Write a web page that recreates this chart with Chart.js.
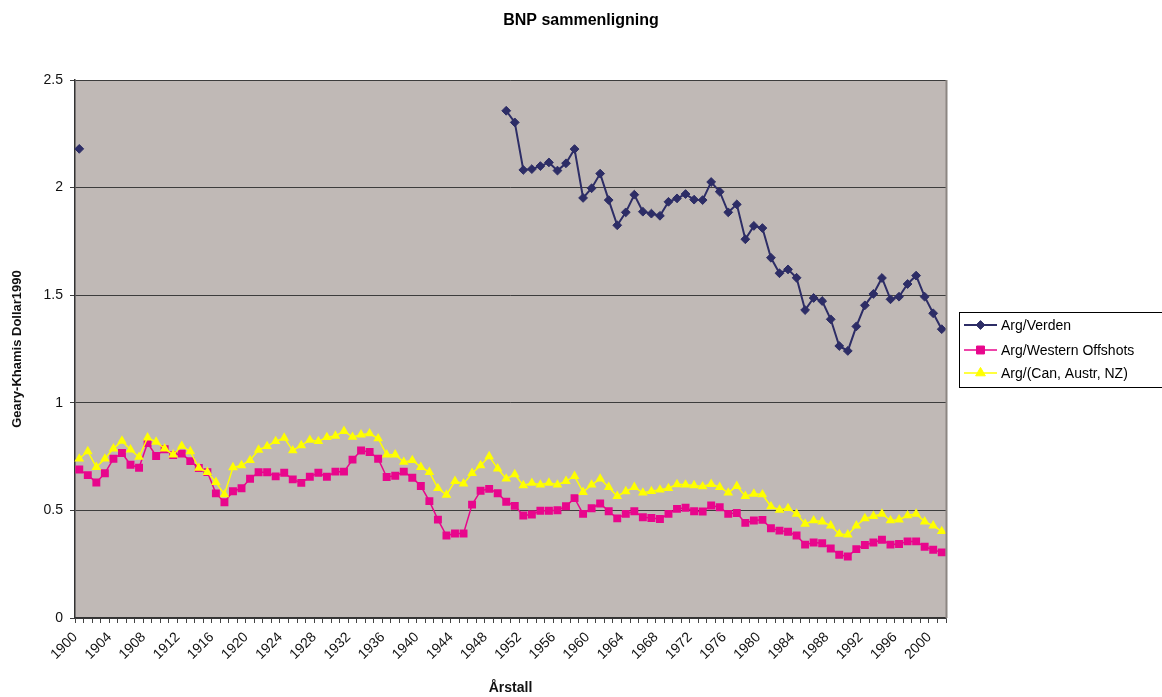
<!DOCTYPE html>
<html>
<head>
<meta charset="utf-8">
<script src="https://cdn.jsdelivr.net/npm/chart.js@4/dist/chart.umd.min.js"></script>
<style>
  html, body { margin: 0; padding: 0; background: #ffffff; }
  #wrap { position: relative; width: 1162px; height: 697px; }
</style>
</head>
<body>
<div id="wrap"><canvas id="c" width="1162" height="697"></canvas></div>
<script>
const years = [1900,1901,1902,1903,1904,1905,1906,1907,1908,1909,1910,1911,1912,1913,1914,1915,1916,1917,1918,1919,
  1920,1921,1922,1923,1924,1925,1926,1927,1928,1929,1930,1931,1932,1933,1934,1935,1936,1937,1938,1939,
  1940,1941,1942,1943,1944,1945,1946,1947,1948,1949,1950,1951,1952,1953,1954,1955,1956,1957,1958,1959,
  1960,1961,1962,1963,1964,1965,1966,1967,1968,1969,1970,1971,1972,1973,1974,1975,1976,1977,1978,1979,
  1980,1981,1982,1983,1984,1985,1986,1987,1988,1989,1990,1991,1992,1993,1994,1995,1996,1997,1998,1999,
  2000,2001];

const argVerden = [2.18,
  null,null,null,null,null,null,null,null,null,null,
  null,null,null,null,null,null,null,null,null,null,
  null,null,null,null,null,null,null,null,null,null,
  null,null,null,null,null,null,null,null,null,null,
  null,null,null,null,null,null,null,null,null,
  2.357,2.303,2.082,2.086,2.100,2.117,2.079,2.113,2.179,1.952,
  1.997,2.065,1.942,1.825,1.885,1.967,1.888,1.879,1.869,1.934,
  1.950,1.970,1.944,1.942,2.026,1.981,1.885,1.922,1.760,1.822,
  1.812,1.674,1.602,1.620,1.581,1.431,1.487,1.473,1.388,1.264,
  1.241,1.355,1.453,1.506,1.580,1.481,1.493,1.552,1.591,1.493,
  1.416,1.342];

const argWesternOffshots = [0.690,0.664,0.630,0.673,0.740,0.767,0.712,0.698,0.813,0.753,
  0.784,0.757,0.764,0.729,0.697,0.678,0.579,0.538,0.589,0.603,
  0.647,0.677,0.677,0.658,0.675,0.644,0.628,0.656,0.675,0.656,
  0.680,0.680,0.736,0.778,0.771,0.740,0.655,0.661,0.680,0.652,
  0.613,0.543,0.457,0.383,0.393,0.393,0.527,0.591,0.600,0.580,
  0.540,0.521,0.476,0.481,0.498,0.498,0.501,0.519,0.557,0.484,
  0.510,0.532,0.496,0.463,0.484,0.496,0.468,0.465,0.460,0.484,
  0.507,0.512,0.496,0.495,0.523,0.515,0.484,0.488,0.442,0.453,
  0.456,0.417,0.406,0.401,0.383,0.341,0.351,0.347,0.323,0.294,
  0.286,0.320,0.339,0.351,0.364,0.341,0.344,0.356,0.356,0.331,
  0.317,0.305];

const argCanAustrNZ = [0.740,0.774,0.701,0.740,0.787,0.823,0.782,0.748,0.838,0.818,
  0.787,0.759,0.799,0.774,0.697,0.678,0.631,0.574,0.700,0.709,
  0.733,0.781,0.798,0.821,0.837,0.778,0.802,0.827,0.821,0.840,
  0.846,0.868,0.841,0.852,0.857,0.834,0.759,0.759,0.725,0.733,
  0.701,0.678,0.603,0.572,0.636,0.624,0.673,0.709,0.751,0.694,
  0.647,0.667,0.616,0.627,0.619,0.628,0.619,0.636,0.659,0.585,
  0.619,0.647,0.608,0.566,0.588,0.608,0.582,0.589,0.596,0.603,
  0.621,0.619,0.616,0.611,0.622,0.608,0.582,0.613,0.566,0.577,
  0.574,0.518,0.502,0.510,0.484,0.437,0.453,0.448,0.429,0.390,
  0.387,0.429,0.463,0.473,0.484,0.453,0.457,0.476,0.484,0.448,
  0.429,0.403];

const seriesNames = ['Arg/Verden', 'Arg/Western Offshots', 'Arg/(Can, Austr, NZ)'];
const yTicks = [0, 0.5, 1, 1.5, 2, 2.5];

const FONT = '"Liberation Sans", Arial, sans-serif';
const PLOT_BG = 'rgb(192,185,182)';
const C_NAVY = '#2d2d66';
const C_PINK = '#e8068c';
const C_YELLOW = '#ffff00';

const chartFrame = {
  id: 'chartFrame',
  beforeDraw(chart) {
    const { ctx, chartArea: a } = chart;
    ctx.save();
    ctx.fillStyle = '#ffffff';
    ctx.fillRect(0, 0, chart.width, chart.height);
    ctx.fillStyle = PLOT_BG;
    ctx.fillRect(a.left, a.top, a.right - a.left, a.bottom - a.top);
    ctx.restore();
  },
  afterDraw(chart) {
    const { ctx, chartArea: a } = chart;
    ctx.save();
    // right plot border
    ctx.strokeStyle = '#8c8682';
    ctx.lineWidth = 2;
    ctx.beginPath();
    ctx.moveTo(a.right + 0.5, a.top);
    ctx.lineTo(a.right + 0.5, a.bottom);
    ctx.stroke();
    // title
    ctx.fillStyle = '#000';
    ctx.font = 'bold 16px ' + FONT;
    ctx.textAlign = 'center';
    ctx.textBaseline = 'middle';
    ctx.fillText('BNP sammenligning', 581, 21);
    // legend
    const lx = 959, ly = 312, lw = 210, lh = 75;
    ctx.fillStyle = '#ffffff';
    ctx.fillRect(lx, ly, lw, lh);
    ctx.strokeStyle = '#000';
    ctx.lineWidth = 1;
    ctx.strokeRect(lx + 0.5, ly + 0.5, lw, lh);
    const rows = [325, 350, 373];
    chart.data.datasets.forEach((ds, i) => {
      const y = rows[i];
      ctx.strokeStyle = ds.borderColor;
      ctx.lineWidth = ds.borderWidth;
      ctx.beginPath();
      ctx.moveTo(964, y);
      ctx.lineTo(997, y);
      ctx.stroke();
      ctx.fillStyle = ds.pointBackgroundColor;
      ctx.strokeStyle = ds.pointBorderColor;
      ctx.lineWidth = 1;
      Chart.helpers.drawPoint(ctx, {
        pointStyle: ds.pointStyle,
        radius: ds.pointRadius,
        rotation: 0,
        borderWidth: 1
      }, 980.5, y);
      ctx.fillStyle = '#000';
      ctx.font = '14px ' + FONT;
      ctx.textAlign = 'left';
      ctx.textBaseline = 'middle';
      ctx.fillText(seriesNames[i], 1001, y + 1);
    });
    ctx.restore();
  }
};

const chart = new Chart(document.getElementById('c'), {
  type: 'line',
  data: {
    labels: years,
    datasets: [
      {
        label: seriesNames[0], data: argVerden,
        borderColor: C_NAVY, backgroundColor: C_NAVY,
        pointStyle: 'rectRot', pointRadius: 4.4, pointBorderWidth: 1,
        pointBackgroundColor: C_NAVY, pointBorderColor: C_NAVY,
        borderWidth: 2, spanGaps: false, order: 2, tension: 0
      },
      {
        label: seriesNames[1], data: argWesternOffshots,
        borderColor: C_PINK, backgroundColor: C_PINK,
        pointStyle: 'rect', pointRadius: 5.6, pointBorderWidth: 0,
        pointBackgroundColor: C_PINK, pointBorderColor: C_PINK,
        borderWidth: 1.5, order: 1, tension: 0
      },
      {
        label: seriesNames[2], data: argCanAustrNZ,
        borderColor: C_YELLOW, backgroundColor: C_YELLOW,
        pointStyle: 'triangle', pointRadius: 5.6, pointBorderWidth: 0,
        pointBackgroundColor: C_YELLOW, pointBorderColor: C_YELLOW,
        borderWidth: 1.5, order: 0, tension: 0
      }
    ]
  },
  options: {
    responsive: false,
    animation: false,
    events: [],
    layout: { padding: { top: 80, right: 216, left: 0, bottom: 0 } },
    plugins: {
      legend: { display: false },
      title: { display: false },
      tooltip: { enabled: false }
    },
    scales: {
      x: {
        type: 'category',
        offset: true,
        afterFit(s) { s.height = 79; },
        grid: { drawOnChartArea: false, drawTicks: true, tickLength: 5, color: '#444', offset: true },
        border: { color: '#333', width: 1.5 },
        ticks: {
          autoSkip: false,
          minRotation: 45, maxRotation: 45,
          padding: 6,
          labelOffset: -4,
          color: '#111',
          font: { family: FONT, size: 14 },
          callback(value, index) {
            return (years[index] - years[0]) % 4 === 0 ? String(years[index]) : '';
          }
        },
        title: {
          display: true, text: 'Årstall', color: '#111',
          font: { family: FONT, size: 14, weight: 'bold' },
          padding: { top: 0, bottom: 0 }
        }
      },
      y: {
        min: 0, max: 2.5,
        afterFit(s) { s.width = 75; },
        afterBuildTicks(s) { s.ticks = yTicks.map(v => ({ value: v })); },
        grid: { color: '#3c3c3c', lineWidth: 1, tickLength: 5, drawTicks: true },
        border: { color: '#333', width: 1.5 },
        ticks: {
          padding: 7,
          color: '#111',
          font: { family: FONT, size: 14 },
          callback(v) { return String(v); }
        },
        title: {
          display: true, text: 'Geary-Khamis Dollar1990', color: '#111',
          font: { family: FONT, size: 13, weight: 'bold' },
          padding: { top: 10, bottom: 0 }
        }
      }
    }
  },
  plugins: [chartFrame]
});
</script>
</body>
</html>
